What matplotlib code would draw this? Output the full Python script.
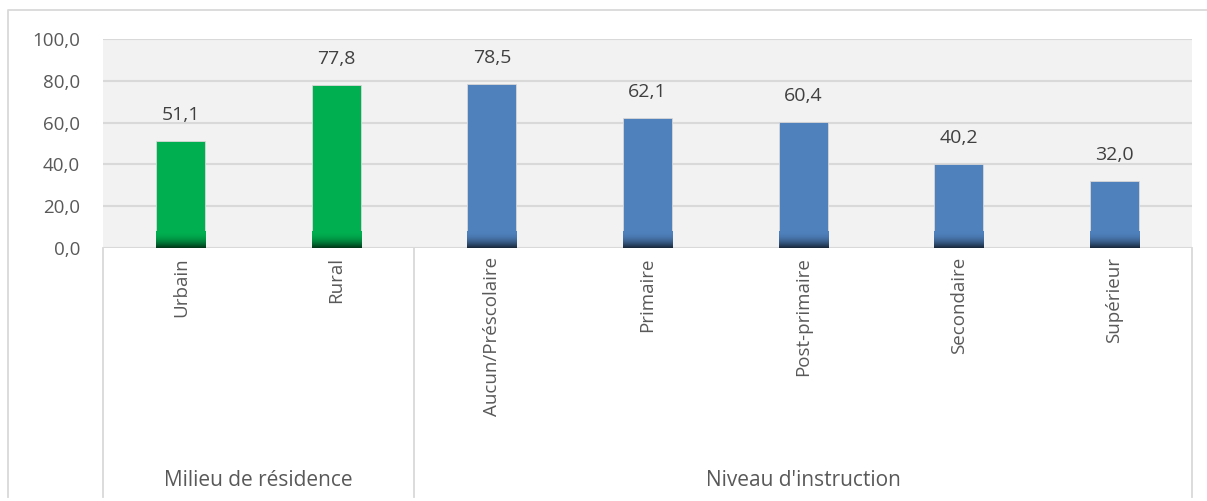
import numpy as np
import matplotlib.pyplot as plt
from matplotlib.lines import Line2D
from matplotlib.colors import to_rgb

plt.rcParams['font.family'] = ['Open Sans', 'DejaVu Sans']

# data
categories = ['Urbain', 'Rural', 'Aucun/Préscolaire', 'Primaire',
              'Post-primaire', 'Secondaire', 'Supérieur']
values = [51.1, 77.8, 78.5, 62.1, 60.4, 40.2, 32.0]
groups = ['Milieu de résidence', "Niveau d'instruction"]
group_sizes = [2, 5]
group_colors = ['#00b050', '#4f81bd']
yticks = [0, 20, 40, 60, 80, 100]

W, H = 1207, 501
fig = plt.figure(figsize=(W / 100, H / 100), dpi=100)
txt = '#595959'

# plot area in pixels
x0, x1, ytop, ybot = 103, 1192, 39, 248
ax = fig.add_axes([x0 / W, 1 - ybot / H, (x1 - x0) / W, (ybot - ytop) / H])
ax.set_facecolor('#f2f2f2')

n = len(categories)
xs = np.arange(n)
colors = []
for c, s in zip(group_colors, group_sizes):
    colors += [c] * s

bw = 0.315
bars = ax.bar(xs, values, width=bw, color=colors, zorder=3,
              edgecolor='#d8d8d8', linewidth=0.6)

# dark gradient at the bottom of each bar
N = 60
t = np.linspace(0, 1, N)
for b, c in zip(bars, colors):
    rgb = np.array(to_rgb(c))
    dark = rgb * 0.3
    img = np.ones((N, 1, 4))
    for k in range(3):
        img[:, 0, k] = dark[k] + (rgb[k] - dark[k]) * (1 - (1 - t) ** 2)
    ax.imshow(img, extent=[b.get_x(), b.get_x() + b.get_width(), 0, 8],
              origin='lower', aspect='auto', zorder=4, interpolation='bilinear')

for x, v in zip(xs, values):
    ax.text(x, v + 10, f'{v:.1f}'.replace('.', ','), ha='center', va='baseline',
            fontsize=14, color='#404040')

ax.set_xlim(-0.5, n - 0.5)
ax.set_ylim(0, 100)
ax.set_yticks(yticks)
ax.set_yticklabels([f'{t:.1f}'.replace('.', ',') for t in yticks],
                   fontsize=13.5, color=txt)
ax.tick_params(axis='y', length=0, pad=16.5)
ax.set_xticks([])
ax.grid(axis='y', color='#d9d9d9', linewidth=1.5, zorder=0)
for s in ax.spines.values():
    s.set_visible(False)

# category labels under the axis
def fx(px):
    return px / W

def fy(py):
    return 1 - py / H

cw = (x1 - x0) / n
for i, lab in enumerate(categories):
    fig.text(fx(x0 + cw * (i + 0.5)), fy(257), lab, rotation=90, ha='center',
             va='top', fontsize=13.5, color=txt)

# group labels and separators
seps = [x0]
start = 0
for g, s in zip(groups, group_sizes):
    cx = x0 + cw * (start + s / 2)
    fig.text(fx(cx), fy(480), g, ha='center', va='center', fontsize=15, color=txt)
    start += s
    seps.append(x0 + cw * start)

for sx in seps:
    fig.add_artist(Line2D([fx(sx), fx(sx)], [fy(ybot), fy(497)],
                          color='#d9d9d9', linewidth=1.3))

# chart frame
fig.add_artist(Line2D([fx(8), fx(8), fx(1207)], [fy(497), fy(10), fy(10)],
                      color='#d9d9d9', linewidth=1.3))

fig.savefig('out.png', dpi=100)
